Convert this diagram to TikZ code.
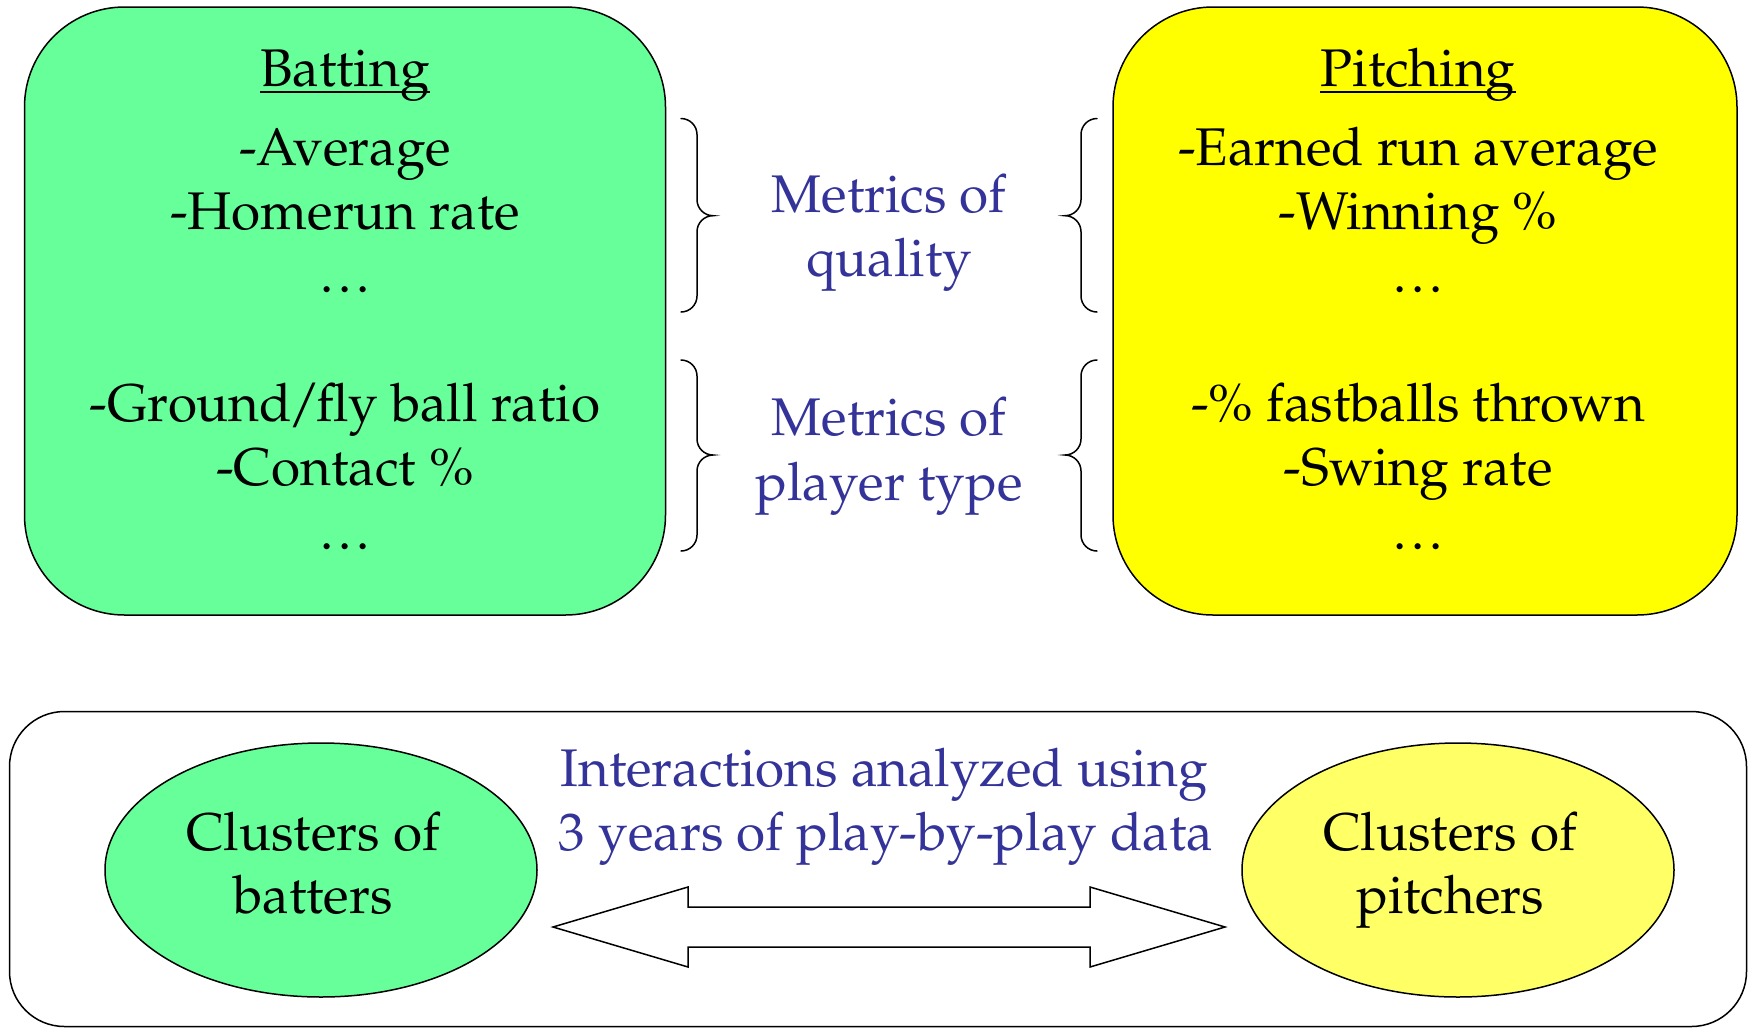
\documentclass[tikz,border=0pt]{standalone}
\usepackage[T1]{fontenc}
\usepackage{mathpazo}
\usetikzlibrary{shapes.geometric}

\definecolor{batgreen}{HTML}{66FF99}
\definecolor{pitchyellow}{HTML}{FFFF00}
\definecolor{paleyellow}{HTML}{FFFF66}
\definecolor{labelblue}{HTML}{333399}

% compact ellipsis used in the lists
\newcommand\moredots{.\kern5pt.\kern5pt.}

% curly brace: x0 = free ends, s = signed hook radius (positive opens left, points right)
\newcommand\mybrace[5]{%
  \draw[bracestroke]
    ({#1},{#3}) .. controls ({#1+0.55*#2},{#3}) and ({#1+#2},{#3+0.45*abs(#2)}) .. ({#1+#2},{#3+abs(#2)})
    -- ({#1+#2},{#4-abs(#2)})
    .. controls ({#1+#2},{#4-0.45*abs(#2)}) and ({#1+1.45*#2},{#4}) .. ({#1+2*#2},{#4})
    .. controls ({#1+1.45*#2},{#4}) and ({#1+#2},{#4+0.45*abs(#2)}) .. ({#1+#2},{#4+abs(#2)})
    -- ({#1+#2},{#5-abs(#2)})
    .. controls ({#1+#2},{#5-0.45*abs(#2)}) and ({#1+0.55*#2},{#5}) .. ({#1},{#5});}

\begin{document}
\begin{tikzpicture}[x=1pt,y=-1pt,
  txt/.style={inner sep=0pt, anchor=base, font=\fontsize{53}{63}\selectfont},
  bluetxt/.style={txt, text=labelblue},
  panel/.style={draw, line width=1.5pt, rounded corners=100pt, inner sep=0pt},
  cluster/.style={ellipse, draw, line width=1.5pt, inner sep=0pt,
    minimum width=432pt, minimum height=254pt},
  bracestroke/.style={line width=1.5pt, line cap=round},
  title/.style={line width=2.2pt}
]
\useasboundingbox (0,0) rectangle (1749,1029);

% top panels
\node[panel, fill=batgreen, minimum width=641pt, minimum height=608pt] (batbox) at (345,311) {};
\node[panel, fill=pitchyellow, minimum width=624pt, minimum height=608pt] (pitbox) at (1425,311) {};

% batting list
\node[txt] (battitle) at (345,86) {Batting};
\draw[title] ([yshift=-6pt]battitle.base west) -- ([yshift=-6pt]battitle.base east);
\node[txt] (bat1) at (345,165) {-Average};
\node[txt] (bat2) at (345,229) {-Homerun rate};
\node[txt] (bat3) at (345,292) {\moredots};
\node[txt] (bat4) at (345,421) {-Ground\kern-4pt/\kern-4pt fly ball ratio};
\node[txt] (bat5) at (345,485) {-Contact \%};
\node[txt] (bat6) at (345,549) {\moredots};

% pitching list
\node[txt] (pittitle) at (1418,86) {Pitching};
\draw[title] ([yshift=-6pt]pittitle.base west) -- ([yshift=-6pt]pittitle.base east);
\node[txt] (pit1) at (1418,165) {-Earned run average};
\node[txt] (pit2) at (1418,229) {-Winning \%};
\node[txt] (pit3) at (1418,292) {\moredots};
\node[txt] (pit4) at (1418,421) {-\% fastballs thrown};
\node[txt] (pit5) at (1418,485) {-Swing rate};
\node[txt] (pit6) at (1418,549) {\moredots};

% braces and their labels
\mybrace{681}{16}{118.5}{215.7}{312}
\mybrace{681}{16}{360}{455}{551}
\mybrace{1097}{-16}{118.5}{215.7}{312}
\mybrace{1097}{-16}{360}{455}{551}
\node[bluetxt] (qual1) at (889,212) {Metrics of};
\node[bluetxt] (qual2) at (889,276) {quality};
\node[bluetxt] (type1) at (889,435) {Metrics of};
\node[bluetxt] (type2) at (889,500) {player type};

% bottom panel
\node[panel, rounded corners=55pt, minimum width=1737pt, minimum height=315pt] (frame) at (878,869) {};
\node[cluster, fill=batgreen] (batters) at (321,870) {};
\node[cluster, fill=paleyellow] (pitchers) at (1458,870) {};
\node[txt] (bc1) at (313,850) {Clusters of};
\node[txt] (bc2) at (313,913) {batters};
\node[txt] (pc1) at (1450,850) {Clusters of};
\node[txt] (pc2) at (1450,913) {pitchers};
\node[bluetxt] (int1) at (884,786) {Interactions analyzed using};
\node[bluetxt] (int2) at (886,850) {3 years of play-by-play data};

% two-headed block arrow between the clusters
\coordinate (tipL) at (553,927);
\coordinate (tipR) at (1225,927);
\draw[line width=1.5pt, fill=white, line join=miter]
  (tipL) -- (688,887) -- (688,907) -- (1090,907) -- (1090,887) -- (tipR)
  -- (1090,967) -- (1090,947) -- (688,947) -- (688,967) -- cycle;
\end{tikzpicture}
\end{document}
